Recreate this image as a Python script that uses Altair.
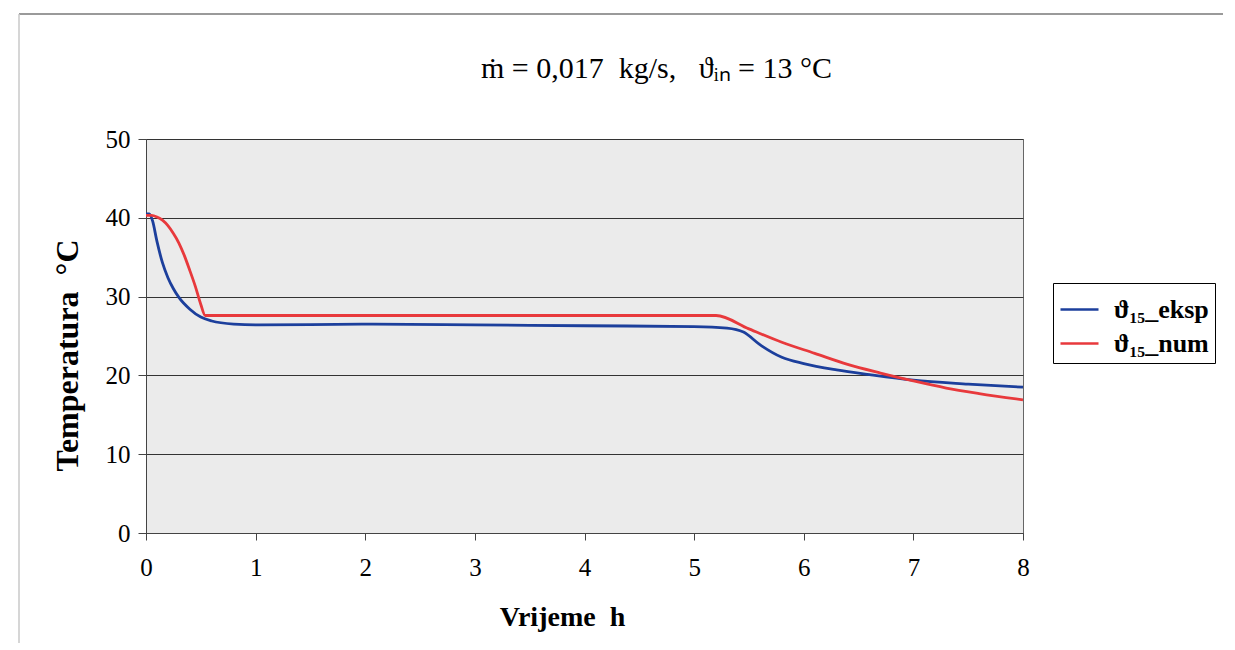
import altair as alt
import pandas as pd

# Experimental series (blue)
t_eksp = [0.0, 0.03, 0.06, 0.1, 0.15, 0.2, 0.25, 0.3, 0.4, 0.5, 0.6, 0.8, 1.0, 2.0, 3.0, 4.0, 5.0,
          5.3, 5.45, 5.6, 5.8, 6.0, 6.3, 6.6, 7.0, 7.5, 8.0]
T_eksp = [40.5, 40.5, 39.6, 37.0, 34.3, 32.4, 31.0, 29.9, 28.4, 27.4, 26.9, 26.5, 26.4, 26.5, 26.4, 26.3, 26.2,
          26.0, 25.5, 23.9, 22.3, 21.5, 20.7, 20.1, 19.4, 18.9, 18.5]

# Numerical series (red)
t_num = [0.0, 0.05, 0.1, 0.15, 0.2, 0.25, 0.3, 0.35, 0.4, 0.45, 0.5, 0.54, 1.0, 3.0, 5.2,
         5.5, 5.8, 6.1, 6.4, 6.7, 7.0, 7.3, 7.6, 8.0]
T_num = [40.3, 40.3, 40.1, 39.7, 39.0, 38.0, 36.8, 35.2, 33.3, 31.3, 29.0, 27.6, 27.6, 27.6, 27.6,
         25.9, 24.2, 22.8, 21.4, 20.3, 19.3, 18.4, 17.7, 16.9]

lab_eksp = "ϑ₁₅_eksp"
lab_num = "ϑ₁₅_num"

df = pd.concat([
    pd.DataFrame({"t": t_eksp, "T": T_eksp, "s": lab_eksp}),
    pd.DataFrame({"t": t_num, "T": T_num, "s": lab_num}),
])

FONT = "Liberation Serif"
NB = "\u00a0"

color = alt.Color(
    "s:N",
    scale=alt.Scale(domain=[lab_eksp, lab_num], range=["#1c3f9c", "#e8393c"]),
    legend=alt.Legend(
        title=None, orient="none", legendX=907, legendY=144,
        labelFont=FONT, labelFontSize=26, labelFontWeight="bold", labelColor="black",
        symbolType="stroke", symbolStrokeWidth=2.5, symbolSize=1444,
        strokeColor="black", fillColor="white", padding=6, rowPadding=0,
        labelLimit=300, labelOffset=14,
    ),
)

lines = alt.Chart(df).mark_line(strokeWidth=2.8, interpolate="monotone").encode(
    x=alt.X("t:Q", scale=alt.Scale(domain=[0, 8], nice=False),
            axis=alt.Axis(title=f"Vrijeme{NB}{NB}h", values=list(range(0, 9)), grid=False,
                          labelFont=FONT, labelFontSize=25, labelColor="black", labelPadding=15,
                          titleFont=FONT, titleFontSize=28, titleFontWeight="bold", titleColor="black",
                          titleX=416, titleY=92, titleBaseline="alphabetic", titleAlign="center",
                          tickSize=7, tickColor="#444", domainColor="#444",
                          labelFlush=False)),
    y=alt.Y("T:Q", scale=alt.Scale(domain=[0, 50], nice=False),
            axis=alt.Axis(title=f"Temperatura{NB}{NB}°C", values=[0, 10, 20, 30, 40, 50],
                          grid=True, gridColor="#333", gridWidth=1,
                          labelFont=FONT, labelFontSize=25, labelColor="black", labelPadding=8,
                          titleFont=FONT, titleFontSize=32, titleFontWeight="bold", titleColor="black",
                          titleX=-79, titleY=216, titleBaseline="middle", titleAlign="center",
                          tickSize=8, tickColor="#444", domainColor="#444")),
    color=color,
    order=alt.Order("t:Q"),
)

# faint outer frame of the figure (decoration, not data)
frame_df = pd.DataFrame({"k": [0]})
frame_top = alt.Chart(frame_df).mark_rule(color="#9a9a9a", strokeWidth=2).encode(
    x=alt.value(-127), x2=alt.value(1089), y=alt.value(-125))
frame_left = alt.Chart(frame_df).mark_rule(color="#c8c8c8", strokeWidth=1.5).encode(
    x=alt.value(-127), y=alt.value(-125), y2=alt.value(511))

chart = alt.layer(lines, frame_top, frame_left).properties(
    width=877,
    height=394,
    title=alt.TitleParams(
        text=f"m\u0307 = 0,017{NB}{NB}kg/s,{NB}{NB}{NB}ϑᵢₙ = 13 °C",
        font=FONT, fontSize=30, fontWeight="normal", color="black",
        anchor="middle", dx=72, offset=-71,
    ),
    autosize=alt.AutoSizeParams(type="none"),
    padding={"left": 138, "top": 131, "right": 200, "bottom": 110},
).configure(
    background="white",
).configure_title(
    font=FONT,
).configure_view(
    fill="#ebebeb", stroke="#666", strokeWidth=1,
)

chart.save("out.html", embed_options={"renderer": "svg", "actions": False})
